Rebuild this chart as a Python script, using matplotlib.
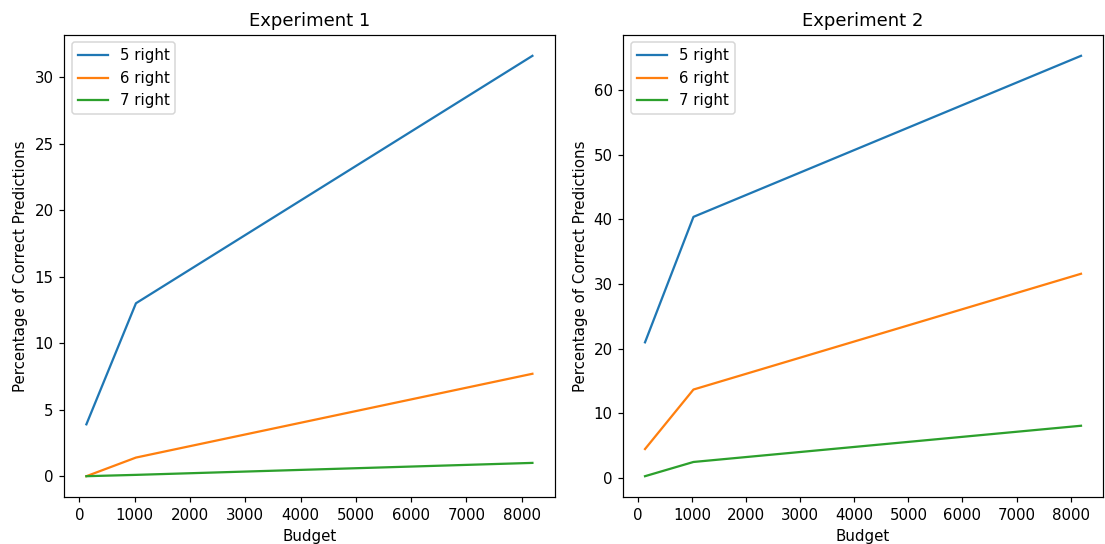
import matplotlib
matplotlib.use("Agg")
import matplotlib.pyplot as plt

budget = [128, 1024, 8192]

# experimento 1
exp1_5 = [3.9, 13.0, 31.6]
exp1_6 = [0.0, 1.4, 7.7]
exp1_7 = [0.0, 0.1, 1.0]

# experimento 2
exp2_5 = [21.0, 40.4, 65.3]
exp2_6 = [4.5, 13.7, 31.6]
exp2_7 = [0.3, 2.5, 8.1]

fig = plt.figure(figsize=(1105 / 108, 544 / 108), dpi=108)
ax1 = fig.add_axes([0.058, 0.086, 0.444, 0.85])
ax2 = fig.add_axes([0.564, 0.086, 0.434, 0.85])

ax1.plot(budget, exp1_5, label='5 right')
ax1.plot(budget, exp1_6, label='6 right')
ax1.plot(budget, exp1_7, label='7 right')
ax1.set_title('Experiment 1')
ax1.set_xlabel('Budget')
ax1.set_ylabel('Percentage of Correct Predictions')
ax1.legend(loc='upper left')

ax2.plot(budget, exp2_5, label='5 right')
ax2.plot(budget, exp2_6, label='6 right')
ax2.plot(budget, exp2_7, label='7 right')
ax2.set_title('Experiment 2')
ax2.set_xlabel('Budget')
ax2.set_ylabel('Percentage of Correct Predictions')
ax2.legend(loc='upper left')

fig.savefig('out.png', dpi=108)
